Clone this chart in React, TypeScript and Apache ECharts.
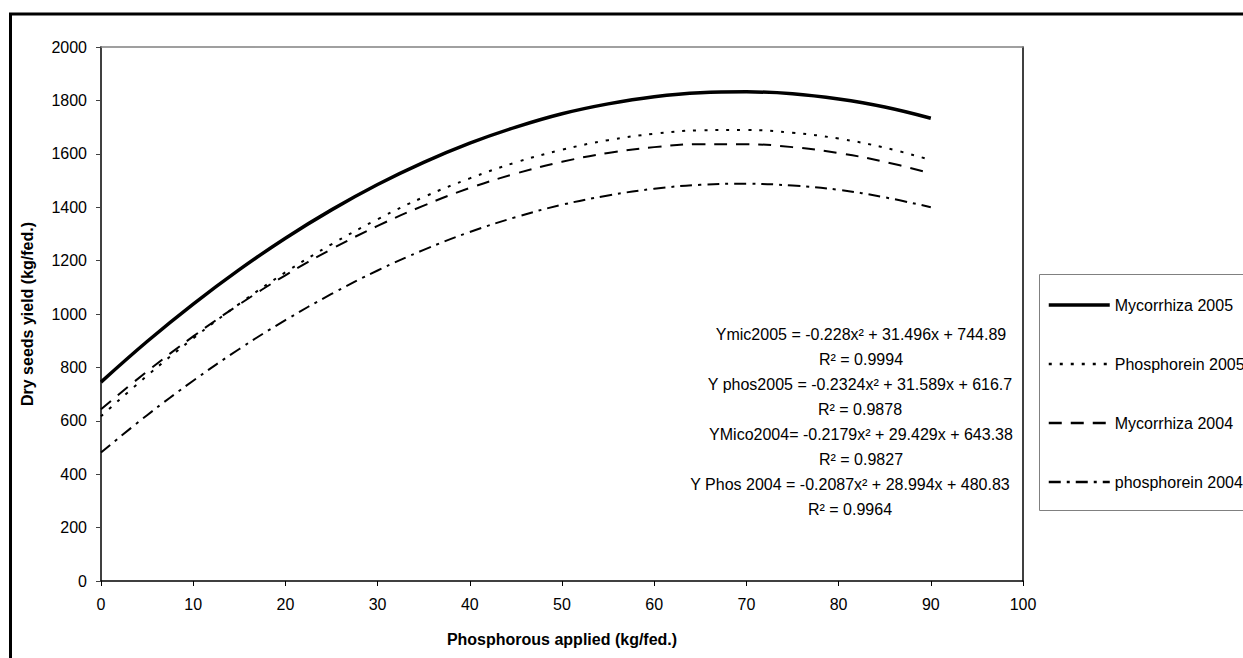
import React, { useEffect, useRef } from "react";
import * as echarts from "echarts";

const xValues = [0, 5, 10, 15, 20, 25, 30, 35, 40, 45, 50, 55, 60, 65, 70, 75, 80, 85, 90];
const mycorrhiza2005 = [745, 897, 1037, 1166, 1284, 1390, 1485, 1568, 1640, 1700, 1750, 1787, 1814, 1829, 1832, 1825, 1805, 1775, 1733];
const phosphorein2005 = [617, 769, 909, 1038, 1156, 1261, 1355, 1438, 1508, 1568, 1615, 1651, 1675, 1688, 1689, 1679, 1657, 1623, 1577];
const mycorrhiza2004 = [643, 785, 916, 1036, 1145, 1243, 1330, 1406, 1472, 1526, 1570, 1603, 1625, 1636, 1636, 1625, 1603, 1570, 1527];
const phosphorein2004 = [481, 621, 750, 869, 977, 1075, 1163, 1240, 1307, 1363, 1409, 1444, 1469, 1484, 1488, 1481, 1465, 1437, 1400];

const seriesNames = ["Mycorrhiza 2005", "Phosphorein 2005", "Mycorrhiza 2004", "phosphorein 2004"];
const equations = [
  ["Ymic2005 = -0.228x² + 31.496x + 744.89", "R² = 0.9994"],
  ["Y phos2005 = -0.2324x² + 31.589x + 616.7", "R² = 0.9878"],
  ["YMico2004= -0.2179x² + 29.429x + 643.38", "R² = 0.9827"],
  ["Y Phos 2004 = -0.2087x² + 28.994x + 480.83", "R² = 0.9964"],
];

const FONT = "Liberation Sans, Arial, sans-serif";

export default function App() {
  const ref = useRef<HTMLDivElement>(null);
  useEffect(() => {
    if (!ref.current) return;
    const chart = echarts.init(ref.current, undefined, { renderer: "svg" });
    const pair = (arr: number[]) => xValues.map((x, i) => [x, arr[i]]);
    const styles = [
      { width: 3.5, type: "solid" as any },
      { width: 2, type: [3, 8] as any },
      { width: 2, type: [13, 9] as any },
      { width: 2, type: [12, 6, 3, 6] as any },
    ];
    const legendWidths = [3.5, 2.5, 2.5, 2.5];
    const datas = [mycorrhiza2005, phosphorein2005, mycorrhiza2004, phosphorein2004];
    const eqCenters = [861, 860, 861, 850];
    const eqTops = [322, 372, 422, 472];
    chart.setOption({
      animation: false,
      backgroundColor: "#fff",
      textStyle: { fontFamily: FONT, color: "#000" },
      grid: { left: 101, right: 220, top: 47, bottom: 77, containLabel: false },
      xAxis: [
        {
          type: "value",
          min: 0,
          max: 100,
          interval: 10,
          name: "Phosphorous applied (kg/fed.)",
          nameLocation: "middle",
          nameGap: 50,
          nameTextStyle: { fontSize: 16, fontWeight: "bold", color: "#000", fontFamily: FONT },
          axisLine: { onZero: false, lineStyle: { color: "#000", width: 1.5 } },
          axisTick: { show: true, length: 5, lineStyle: { color: "#000" } },
          axisLabel: { fontSize: 16, color: "#000", margin: 15, fontFamily: FONT, formatter: (v: number) => String(v) },
          splitLine: { show: false },
        },
        {
          type: "value",
          position: "top",
          min: 0,
          max: 100,
          interval: 10,
          axisLine: { show: true, onZero: false, lineStyle: { color: "#808080", width: 1.5 } },
          axisTick: { show: false },
          axisLabel: { show: false },
          splitLine: { show: false },
        },
      ],
      yAxis: [
        {
          type: "value",
          min: 0,
          max: 2000,
          interval: 200,
          name: "Dry seeds yield (kg/fed.)",
          nameLocation: "middle",
          nameGap: 66,
          nameRotate: 90,
          nameTextStyle: { fontSize: 16, fontWeight: "bold", color: "#000", fontFamily: FONT },
          axisLine: { show: true, onZero: false, lineStyle: { color: "#404040", width: 2 } },
          axisTick: { show: true, length: 5, lineStyle: { color: "#404040" } },
          axisLabel: { fontSize: 16, color: "#000", margin: 14, fontFamily: FONT, formatter: (v: number) => String(v) },
          splitLine: { show: false },
        },
        {
          type: "value",
          position: "right",
          min: 0,
          max: 2000,
          interval: 200,
          axisLine: { show: true, onZero: false, lineStyle: { color: "#000", width: 1.5 } },
          axisTick: { show: false },
          axisLabel: { show: false },
          splitLine: { show: false },
        },
      ],
      legend: {
        orient: "vertical",
        left: 1047,
        top: 297,
        itemWidth: 61,
        itemHeight: 16,
        itemGap: 43,
        padding: 0,
        itemStyle: { opacity: 0, borderWidth: 0 },
        textStyle: { fontSize: 16, color: "#000", fontFamily: FONT, lineHeight: 16 },
        data: seriesNames.map((n, i) => ({
          name: n,
          itemStyle: { opacity: 0, borderWidth: 0 },
          lineStyle: { width: legendWidths[i], type: styles[i].type, color: "#000" },
        })),
      },
      series: seriesNames.map((name, i) => ({
        name,
        type: "line",
        data: pair(datas[i]),
        smooth: 0.4,
        symbol: "none",
        showSymbol: false,
        lineStyle: { color: "#000", width: styles[i].width, type: styles[i].type, cap: "butt" },
        itemStyle: { color: "#000" },
      })),
      graphic: [
        {
          type: "rect",
          silent: true,
          shape: { x: 1039.5, y: 274.5, width: 400, height: 236 },
          style: { fill: "none", stroke: "#808080", lineWidth: 1 },
          z: 1,
        },
        {
          type: "rect",
          silent: true,
          shape: { x: 10.5, y: 14, width: 1400, height: 900 },
          style: { fill: "none", stroke: "#000", lineWidth: 3 },
          z: 100,
        },
        ...equations.map((lines, i) => ({
          type: "text",
          silent: true,
          x: eqCenters[i],
          y: eqTops[i],
          style: {
            text: lines.join("\n"),
            fontSize: 16,
            lineHeight: 25,
            fontFamily: FONT,
            fill: "#000",
            align: "center",
            verticalAlign: "top",
          },
          z: 10,
        })),
      ],
    });
    return () => chart.dispose();
  }, []);
  return (
    <div
      ref={ref}
      style={{ position: "fixed", left: 0, top: 0, width: 1243, height: 658, background: "#fff" }}
    />
  );
}
